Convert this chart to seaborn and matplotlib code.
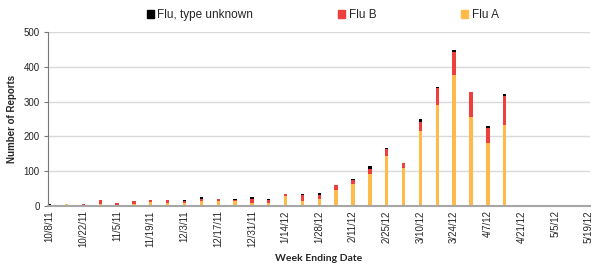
import matplotlib
matplotlib.use("Agg")
import matplotlib.pyplot as plt
from matplotlib.patches import Patch
import seaborn as sns
import pandas as pd

# week ending dates (weekly, 10/8/11 .. 5/19/12)
weeks = ["10/8/11", "10/15/11", "10/22/11", "10/29/11", "11/5/11", "11/12/11",
         "11/19/11", "11/26/11", "12/3/11", "12/10/11", "12/17/11", "12/24/11",
         "12/31/11", "1/7/12", "1/14/12", "1/21/12", "1/28/12", "2/4/12",
         "2/11/12", "2/18/12", "2/25/12", "3/3/12", "3/10/12", "3/17/12",
         "3/24/12", "3/31/12", "4/7/12", "4/14/12", "4/21/12", "4/28/12",
         "5/5/12", "5/12/12", "5/19/12"]
flu_a = [0, 7, 3, 7, 3, 7, 12, 10, 8, 14, 14, 14, 9, 9, 29, 15, 19, 47,
         62, 93, 143, 109, 215, 291, 378, 257, 182, 234, 0, 0, 0, 0, 0]
flu_b = [2, 0, 4, 10, 5, 6, 5, 6, 5, 5, 6, 2, 11, 8, 6, 16, 12, 12,
         13, 14, 20, 16, 26, 48, 66, 71, 43, 81, 0, 0, 0, 0, 0]
flu_unknown = [3, 0, 0, 0, 0, 0, 0, 0, 4, 6, 1, 5, 5, 4, 0, 4, 5, 1,
               4, 7, 3, 0, 9, 4, 5, 0, 5, 6, 0, 0, 0, 0, 0]

c_a = "#FFBA4A"
c_b = "#EE3E3E"
c_u = "#000000"

df = pd.DataFrame({"week": weeks, "A": flu_a, "B": flu_b, "U": flu_unknown})
df["AB"] = df["A"] + df["B"]
df["total"] = df["AB"] + df["U"]

sns.set_style("white")
plt.rcParams["font.family"] = ["Liberation Sans", "DejaVu Sans"]

fig = plt.figure(figsize=(6, 2.7), dpi=100)
ax = fig.add_axes([0.08, 0.237, 0.903, 0.644])

# stacked look: draw cumulative totals on top of each other
for col, c in [("total", c_u), ("AB", c_b), ("A", c_a)]:
    sns.barplot(data=df, x="week", y=col, order=weeks, color=c, width=0.2,
                errorbar=None, linewidth=0, saturation=1, ax=ax)

ax.set_ylim(0, 500)
ax.set_xlim(-0.1, len(weeks) - 0.95)
ax.set_yticks(range(0, 501, 100))
ax.yaxis.grid(True, color="#D9D9D9", linewidth=1)
ax.set_axisbelow(True)
ax.set_xticks(range(0, len(weeks), 2))
ax.set_xticklabels(weeks[::2], rotation=90, fontsize=7)
ax.tick_params(axis="y", labelsize=7, length=3, color="#777777", left=True, pad=3)
ax.tick_params(axis="x", length=0, pad=3)

for s in ["top", "right"]:
    ax.spines[s].set_visible(False)
ax.spines["left"].set_color("#777777")
ax.spines["left"].set_linewidth(0.8)
ax.spines["bottom"].set_color("#A6A6A6")
ax.spines["bottom"].set_linewidth(1.5)

ax.set_xlabel("Week Ending Date", fontsize=7.5, fontweight="bold", family="Lato", labelpad=5)
ax.set_ylabel("Number of Reports", fontsize=7, fontweight="bold", labelpad=5)

handles = [Patch(color=c_u, label="Flu, type unknown"),
           Patch(color=c_b, label="Flu B"),
           Patch(color=c_a, label="Flu A")]
fig.legend(handles=handles, loc="center", bbox_to_anchor=(0.538, 0.944), ncol=3,
           frameon=False, fontsize=8.5, handlelength=0.6, handleheight=0.6,
           handletextpad=0.3, columnspacing=7.2)

fig.savefig("out.png", dpi=100)
